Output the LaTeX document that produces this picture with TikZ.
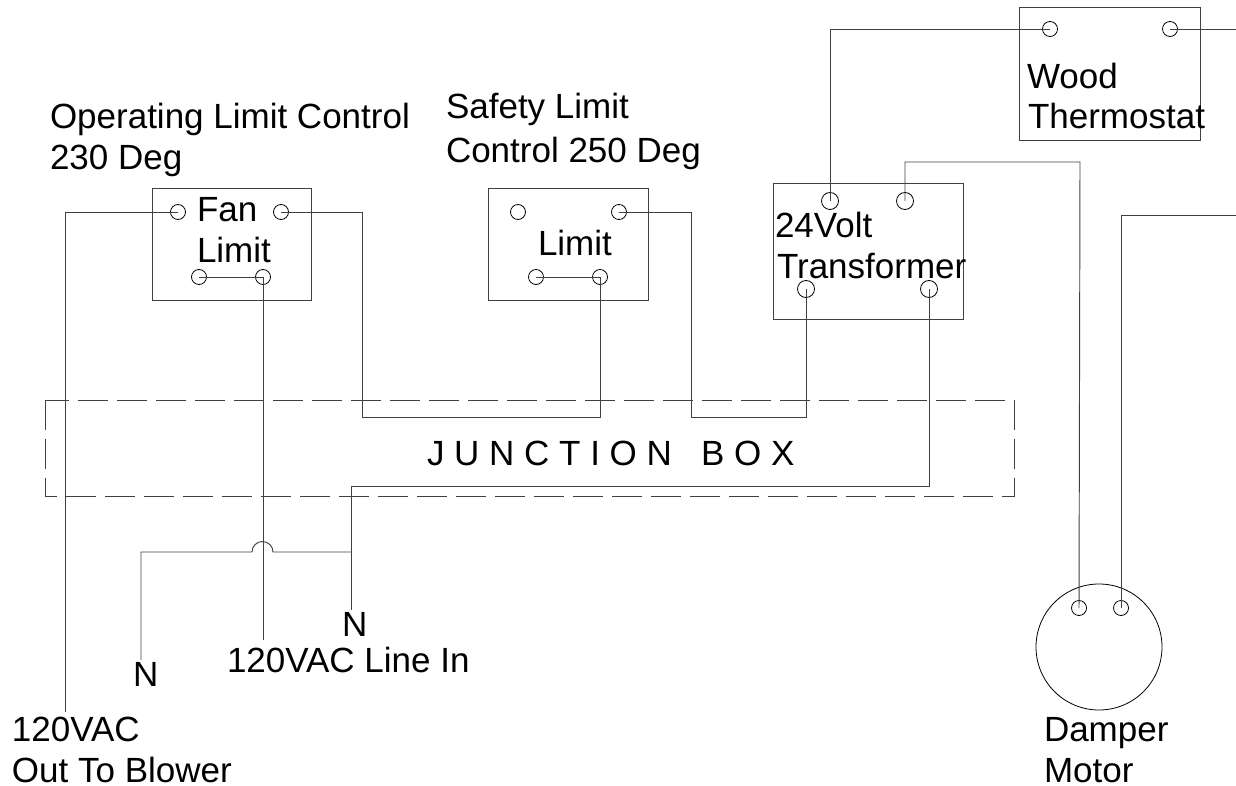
\documentclass[tikz,border=0pt]{standalone}
\usepackage{fontspec}
\setmainfont{Liberation Sans}
\tikzset{
  wire/.style={draw=black!75,line width=0.95pt},
  boxs/.style={draw=black!75,line width=0.95pt},
  term/.style={circle,draw=black,line width=0.8pt,minimum size=15pt,inner sep=0pt,outer sep=0pt},
  bigterm/.style={term,minimum size=17pt},
  lab/.style={anchor=base west,inner sep=0pt,outer sep=0pt,font=\fontsize{35}{42}\selectfont},
}
\begin{document}
\begin{tikzpicture}[x=1pt,y=-1pt]
\useasboundingbox (0,0) rectangle (1236,786);
% boxes
\draw[boxs] (152,188) rectangle (311,300);
\draw[boxs] (488,188) rectangle (648,300);
\draw[boxs] (773,183) rectangle (963,319);
\draw[boxs] (1019,7) rectangle (1200,140);
\draw[boxs,dash pattern=on 30pt off 9pt] (45,400) rectangle (1014,496);
% terminals
\node[term] (f1) at (178,212) {};
\node[term] (f2) at (281,212) {};
\node[term] (f3) at (199,277) {};
\node[term] (f4) at (263,277) {};
\node[term] (l1) at (518,212) {};
\node[term] (l2) at (619,212) {};
\node[term] (l3) at (536,277) {};
\node[term] (l4) at (600,277) {};
\node[bigterm] (t1) at (830,201) {};
\node[bigterm] (t2) at (905,201) {};
\node[bigterm] (t3) at (806,289) {};
\node[bigterm] (t4) at (929,289) {};
\node[term] (w1) at (1050,29) {};
\node[term] (w2) at (1170,29) {};
\node[term] (m1) at (1079,608) {};
\node[term] (m2) at (1121,608) {};
\node[circle,draw=black,line width=0.8pt,minimum size=126pt,inner sep=0pt] (motor) at (1099,647) {};
% free ends
\coordinate (blower) at (65,712);
\coordinate (linein) at (263,640);
\coordinate (n1) at (351,610);
\coordinate (n2) at (141,660);
\coordinate (j) at (351,552);
\coordinate (wr) at (1236,29);
\coordinate (mr) at (1236,215);
% wires
\draw[wire] (f1.center) -- (65,212) -- (blower);
\draw[wire] (f3.center) -- (f4.center);
\draw[wire] (f4.center) -- (linein);
\draw[wire] (f2.center) -- (362,212) -- (362,417) -- (600,417) -- (l4.center);
\draw[wire] (l3.center) -- (l4.center);
\draw[wire] (l2.center) -- (691,212) -- (691,417) -- (806,417) -- (t3.center);
\draw[wire] (t4.center) -- (929,486) -- (351,486) -- (n1);
\draw[wire] (j) -- (273,552) arc[start angle=0,end angle=-180,radius=10.5] -- (141,552) -- (n2);
\draw[wire] (w1.center) -- (830,29) -- (t1.center);
\draw[wire] (w2.center) -- (wr);
\draw[wire] (t2.center) -- (905,162) -- (1080,162) -- (m1.center);
\draw[wire] (m2.center) -- (1121,215) -- (mr);
% labels
\node[lab] (a1) at (50,129) {Operating Limit Control};
\node[lab] (a2) at (50,170) {230 Deg};
\node[lab] (b1) at (446,119) {Safety Limit};
\node[lab] (b2) at (446,163) {Control 250 Deg};
\node[lab] (c1) at (197,222) {Fan};
\node[lab] (c2) at (197,262) {Limit};
\node[lab] (d) at (538,256) {Limit};
\node[lab] (e1) at (775,238) {24Volt};
\node[lab] (e2) at (777,279) {Transformer};
\node[lab] (g1) at (1027,89) {Wood};
\node[lab] (g2) at (1028,129) {Thermostat};
\node[lab] (h) at (427,465) {J U N C T I O N \ \ B O X};
\node[lab] (i1) at (342,636) {N};
\node[lab] (i2) at (133,686) {N};
\node[lab] (k) at (227,672) {120VAC Line In};
\node[lab] (o1) at (12,741) {120VAC};
\node[lab] (o2) at (12,782) {Out To Blower};
\node[lab] (p1) at (1044,741) {Damper};
\node[lab] (p2) at (1044,782) {Motor};
\end{tikzpicture}
\end{document}
